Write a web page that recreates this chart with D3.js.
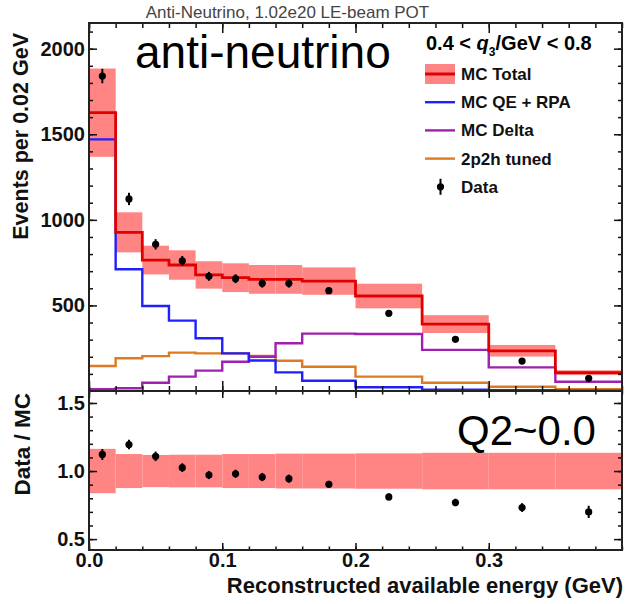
<!DOCTYPE html>
<html>
<head>
<meta charset="utf-8">
<script src="https://cdn.jsdelivr.net/npm/d3@7"></script>
<style>
body { margin: 0; background: #fff; }
svg { font-family: "Liberation Sans", Arial, Helvetica, sans-serif; }
.axis path { display: none; }
.axis line { stroke: #111; stroke-width: 1.5; }
.axis text { font-size: 20px; font-weight: bold; fill: #111; font-family: "Liberation Sans", Arial, sans-serif; }
</style>
</head>
<body>
<svg width="629" height="604"></svg>
<script>
// bin edges in reconstructed available energy (GeV)
var binEdges = [0, 0.02, 0.04, 0.06, 0.08, 0.10, 0.12, 0.14, 0.16, 0.20, 0.25, 0.30, 0.35, 0.40]

// events per 0.02 GeV
var mcTotal = [1626, 927, 765, 736, 678, 662, 652, 652, 642, 555, 391, 235, 107]
var mcErr   = [258, 117, 84, 86, 80, 84, 84, 84, 80, 72, 52, 34, 14]
var qeRpa   = [1470, 711, 497, 411, 308, 220, 178, 109, 60, 22, 8, 4, 2]
var delta   = [10, 16, 48, 84, 119, 171, 200, 279, 335, 333, 240, 138, 54]
var twoP2h  = [146, 191, 204, 224, 220, 220, 205, 177, 142, 84, 48, 25, 10]
var data    = [1840, 1122, 857, 761, 670, 656, 629, 629, 586, 454, 302, 175, 74]
var dataErr = [42, 36, 30, 28, 26, 26, 25, 25, 18, 16, 13, 11, 8]

// data / MC
var ratio     = [1.122, 1.195, 1.108, 1.025, 0.971, 0.98, 0.956, 0.944, 0.903, 0.81, 0.769, 0.732, 0.70]
var ratioErr  = [0.04, 0.035, 0.035, 0.032, 0.03, 0.03, 0.03, 0.03, 0.025, 0.025, 0.028, 0.032, 0.045]
var ratioBand = [0.163, 0.125, 0.118, 0.12, 0.12, 0.125, 0.125, 0.128, 0.128, 0.13, 0.134, 0.134, 0.134]

var xMajorTicks = [0, 0.1, 0.2, 0.3]
var yTopTicks = [500, 1000, 1500, 2000]
var yBotTicks = [0.5, 1.0, 1.5]

var legendLabels = ["MC Total", "MC QE + RPA", "MC Delta", "2p2h tuned", "Data"]

var RED = "#e00000", BAND = "#ff8585", BLUE = "#1f1fff", PURPLE = "#a020b0", ORANGE = "#dd7a22"

var svg = d3.select("svg")
// frame edges (note: "top" is a reserved window global, so use other names)
var frameL = 89, frameR = 622, frameT = 23, frameM = 391, frameB = 550

var x = d3.scaleLinear().domain([0, 0.4]).range([frameL, frameR])
var yTop = d3.scaleLinear().domain([0, 2150]).range([frameM, frameT])
var yBot = d3.scaleLinear().domain([0.42, 1.588]).range([frameB, frameM])

var bins = binEdges.slice(0, -1).map(function(lo, i) {
	var hi = binEdges[i + 1]
	return { i: i, lo: lo, hi: hi, mid: (lo + hi) / 2 }
})

svg.append("defs").append("clipPath").attr("id", "clipTop")
   .append("rect").attr("x", frameL).attr("y", frameT)
   .attr("width", frameR - frameL).attr("height", frameM - frameT)

// ---------- top panel ----------
var gTop = svg.append("g").attr("clip-path", "url(#clipTop)")

// MC error band
gTop.selectAll("rect.band")
    .data(bins)
    .enter()
    .append("rect")
    .attr("class", "band")
    .attr("x", function(d) { return x(d.lo) })
    .attr("width", function(d) { return x(d.hi) - x(d.lo) })
    .attr("y", function(d) { return yTop(mcTotal[d.i] + mcErr[d.i]) })
    .attr("height", function(d) { return yTop(mcTotal[d.i] - mcErr[d.i]) - yTop(mcTotal[d.i] + mcErr[d.i]) })
    .attr("fill", BAND)

function stepPoints(vals) {
	var pts = vals.map(function(v, i) { return [binEdges[i], v] })
	pts.push([binEdges[vals.length], vals[vals.length - 1]])
	return pts
}

var stepLine = d3.line()
	.x(function(d) { return x(d[0]) })
	.y(function(d) { return yTop(d[1]) })
	.curve(d3.curveStepAfter)

var series = [[twoP2h, ORANGE], [delta, PURPLE], [qeRpa, BLUE], [mcTotal, RED]]
series.forEach(function(s) {
	gTop.append("path")
	    .datum(stepPoints(s[0]))
	    .attr("d", stepLine)
	    .attr("fill", "none")
	    .attr("stroke", s[1])
	    .attr("stroke-width", s[1] === RED ? 2.8 : 2.4)
})

// data points
var pTop = gTop.selectAll("g.pt")
    .data(bins)
    .enter()
    .append("g")
    .attr("class", "pt")
pTop.append("line")
    .attr("x1", function(d) { return x(d.mid) })
    .attr("x2", function(d) { return x(d.mid) })
    .attr("y1", function(d) { return yTop(data[d.i] - dataErr[d.i]) })
    .attr("y2", function(d) { return yTop(data[d.i] + dataErr[d.i]) })
    .attr("stroke", "#000").attr("stroke-width", 2)
pTop.append("circle")
    .attr("cx", function(d) { return x(d.mid) })
    .attr("cy", function(d) { return yTop(data[d.i]) })
    .attr("r", 3.6)
    .attr("fill", "#000")

// ---------- bottom panel ----------
var gBot = svg.append("g")
gBot.selectAll("rect.band")
    .data(bins)
    .enter()
    .append("rect")
    .attr("class", "band")
    .attr("x", function(d) { return x(d.lo) })
    .attr("width", function(d) { return x(d.hi) - x(d.lo) })
    .attr("y", function(d) { return yBot(1 + ratioBand[d.i]) })
    .attr("height", function(d) { return yBot(1 - ratioBand[d.i]) - yBot(1 + ratioBand[d.i]) })
    .attr("fill", BAND)

var pBot = gBot.selectAll("g.pt")
    .data(bins)
    .enter()
    .append("g")
    .attr("class", "pt")
pBot.append("line")
    .attr("x1", function(d) { return x(d.mid) })
    .attr("x2", function(d) { return x(d.mid) })
    .attr("y1", function(d) { return yBot(ratio[d.i] - ratioErr[d.i]) })
    .attr("y2", function(d) { return yBot(ratio[d.i] + ratioErr[d.i]) })
    .attr("stroke", "#000").attr("stroke-width", 2)
pBot.append("circle")
    .attr("cx", function(d) { return x(d.mid) })
    .attr("cy", function(d) { return yBot(ratio[d.i]) })
    .attr("r", 3.6)
    .attr("fill", "#000")

// ---------- axes (ROOT style, ticks inside) ----------
var xMinor = d3.range(0, 0.4001, 0.02)

function addAxis(axis, tx, ty) {
	svg.append("g").attr("class", "axis")
	   .attr("transform", "translate(" + tx + "," + ty + ")")
	   .call(axis)
}

// top panel
addAxis(d3.axisBottom(x).tickValues(xMinor).tickSize(-5).tickFormat(""), 0, frameM)
addAxis(d3.axisBottom(x).tickValues(xMajorTicks).tickSize(-10).tickFormat(""), 0, frameM)
addAxis(d3.axisTop(x).tickValues(xMinor).tickSize(-5).tickFormat(""), 0, frameT)
addAxis(d3.axisTop(x).tickValues(xMajorTicks).tickSize(-10).tickFormat(""), 0, frameT)
addAxis(d3.axisLeft(yTop).tickValues(d3.range(100, 2150, 100)).tickSize(-4).tickFormat(""), frameL, 0)
addAxis(d3.axisLeft(yTop).tickValues(yTopTicks).tickSize(-8).tickPadding(4).tickFormat(d3.format("d")), frameL, 0)
addAxis(d3.axisRight(yTop).tickValues(d3.range(100, 2150, 100)).tickSize(-4).tickFormat(""), frameR, 0)
addAxis(d3.axisRight(yTop).tickValues(yTopTicks).tickSize(-8).tickFormat(""), frameR, 0)

// bottom panel
addAxis(d3.axisBottom(x).tickValues(xMinor).tickSize(-3.5).tickFormat(""), 0, frameB)
addAxis(d3.axisBottom(x).tickValues(xMajorTicks).tickSize(-7).tickPadding(3).tickFormat(d3.format(".1f")), 0, frameB)
addAxis(d3.axisTop(x).tickValues(xMinor).tickSize(-3.5).tickFormat(""), 0, frameM)
addAxis(d3.axisTop(x).tickValues(xMajorTicks).tickSize(-7).tickFormat(""), 0, frameM)
addAxis(d3.axisLeft(yBot).tickValues(d3.range(0.5, 1.55, 0.1)).tickSize(-4).tickFormat(""), frameL, 0)
addAxis(d3.axisLeft(yBot).tickValues(yBotTicks).tickSize(-8).tickPadding(4).tickFormat(d3.format(".1f")), frameL, 0)
addAxis(d3.axisRight(yBot).tickValues(d3.range(0.5, 1.55, 0.1)).tickSize(-4).tickFormat(""), frameR, 0)
addAxis(d3.axisRight(yBot).tickValues(yBotTicks).tickSize(-8).tickFormat(""), frameR, 0)

// frames
svg.append("rect").attr("x", frameL).attr("y", frameT)
   .attr("width", frameR - frameL).attr("height", frameM - frameT)
   .attr("fill", "none").attr("stroke", "#222").attr("stroke-width", 2)
svg.append("rect").attr("x", frameL).attr("y", frameM)
   .attr("width", frameR - frameL).attr("height", frameB - frameM)
   .attr("fill", "none").attr("stroke", "#222").attr("stroke-width", 2)

// ---------- texts ----------
svg.append("text")
   .attr("x", 287.5).attr("y", 18)
   .attr("text-anchor", "middle")
   .attr("font-size", 17).attr("fill", "#444")
   .text("Anti-Neutrino, 1.02e20 LE-beam POT")

svg.append("text")
   .attr("x", 135).attr("y", 68)
   .attr("font-size", 46).attr("fill", "#000")
   .text("anti-neutrino")

svg.append("text")
   .attr("x", 457).attr("y", 445)
   .attr("font-size", 42).attr("fill", "#000")
   .text("Q2~0.0")

var q3 = svg.append("text")
   .attr("x", 426).attr("y", 50)
   .attr("font-size", 20).attr("font-weight", "bold").attr("fill", "#000")
q3.append("tspan").text("0.4 <  ")
q3.append("tspan").attr("font-style", "italic").text("q")
q3.append("tspan").attr("font-size", 12).attr("dy", 6).text("3")
q3.append("tspan").attr("dy", -6).text("/GeV < 0.8")

svg.append("text")
   .attr("x", frameR + 1).attr("y", 592.5)
   .attr("text-anchor", "end")
   .attr("font-size", 22).attr("font-weight", "bold").attr("fill", "#111")
   .text("Reconstructed available energy (GeV)")

svg.append("text")
   .attr("transform", "translate(28," + 33 + ") rotate(-90)")
   .attr("text-anchor", "end")
   .attr("font-size", 21.5).attr("font-weight", "bold").attr("fill", "#111")
   .text("Events per 0.02 GeV")

svg.append("text")
   .attr("transform", "translate(30," + 393 + ") rotate(-90)")
   .attr("text-anchor", "end")
   .attr("font-size", 22.5).attr("font-weight", "bold").attr("fill", "#111")
   .text("Data / MC")

// ---------- legend ----------
var legColors = [RED, BLUE, PURPLE, ORANGE, "#000"]
var leg = svg.append("g")
legendLabels.forEach(function(lab, i) {
	var cy = 74 + i * 28.2
	var e = leg.append("g")
	if (i === 0) {
		e.append("rect").attr("x", 425).attr("y", cy - 10)
		 .attr("width", 30).attr("height", 20).attr("fill", BAND)
	}
	if (i < 4) {
		e.append("line").attr("x1", 425).attr("x2", 455)
		 .attr("y1", cy).attr("y2", cy)
		 .attr("stroke", legColors[i]).attr("stroke-width", i === 0 ? 3 : 2.4)
	} else {
		e.append("line").attr("x1", 440.5).attr("x2", 440.5)
		 .attr("y1", cy - 8).attr("y2", cy + 8)
		 .attr("stroke", "#000").attr("stroke-width", 2)
		e.append("circle").attr("cx", 440.5).attr("cy", cy).attr("r", 3.6).attr("fill", "#000")
	}
	e.append("text").attr("x", 461).attr("y", cy).attr("dy", "0.35em")
	 .attr("font-size", 17).attr("font-weight", "bold").attr("fill", "#111")
	 .text(lab)
})
</script>
</body>
</html>
